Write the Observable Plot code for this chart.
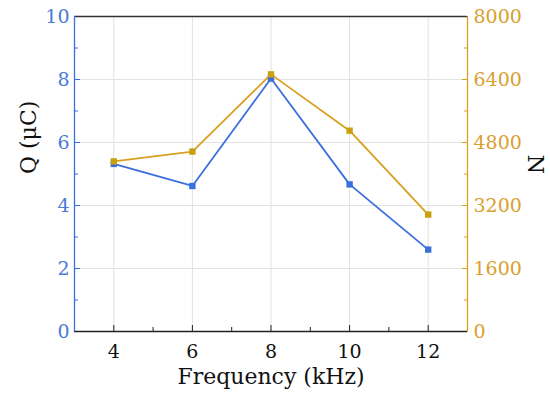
<!DOCTYPE html>
<html><head><meta charset="utf-8">
<script src="https://cdn.jsdelivr.net/npm/d3@7"></script>
<script src="https://cdn.jsdelivr.net/npm/@observablehq/plot@0.6"></script>
<style>body{margin:0;background:#fff}</style>
</head><body><div id="chart"></div>
<script>
const freq = [4, 6, 8, 10, 12];
const charge = [5.32, 4.62, 8.03, 4.67, 2.6];
const count = [4320, 4570, 6530, 5100, 2970];
const xTicks = [4, 6, 8, 10, 12];
const xMinor = [5, 7, 9, 11];
const yTicks = [0, 2, 4, 6, 8, 10];
const yMinor = [1, 3, 5, 7, 9];
const nTicks = [0, 1600, 3200, 4800, 6400, 8000];
const nMax = 8000;

const blue = "#3b6fdc";
const orange = "#d9a020";
const blueTxt = "#4a7bd6";
const orangeTxt = "#d9a030";

const qData = freq.map((f, i) => ({f, v: charge[i]}));
const nData = freq.map((f, i) => ({f, v: count[i] / nMax * 10}));

const chart = Plot.plot({
  width: 550, height: 394,
  marginLeft: 74, marginRight: 83, marginTop: 16, marginBottom: 63,
  style: {fontFamily: "DejaVu Serif", fontSize: "18px", background: "#fff"},
  x: {domain: [3, 13]},
  y: {domain: [0, 10]},
  marks: [
    Plot.gridX(xTicks, {stroke: "#e2e2e2", strokeOpacity: 1}),
    Plot.gridY([2, 4, 6, 8], {stroke: "#e2e2e2", strokeOpacity: 1}),
    // x axis labels and inward ticks
    Plot.axisX(xTicks, {tickSize: 0, tickPadding: 13, fill: "#111", fontSize: 19, label: null}),
    Plot.axisX(xTicks, {tickSize: 6, dy: -6, text: null, stroke: "#222", label: null}),
    Plot.axisX(xMinor, {tickSize: 4, dy: -4, text: null, stroke: "#222", label: null}),
    // left axis
    Plot.axisY(yTicks, {anchor: "left", tickSize: 0, tickPadding: 5, fill: blueTxt, fontSize: 19, label: null}),
    Plot.axisY(yTicks, {anchor: "left", tickSize: 6, dx: 6, text: null, stroke: blue, label: null}),
    Plot.axisY(yMinor, {anchor: "left", tickSize: 4, dx: 4, text: null, stroke: blue, label: null}),
    // right axis
    Plot.axisY(yTicks, {anchor: "right", tickSize: 0, tickPadding: 6, fill: orangeTxt, fontSize: 19, label: null,
      tickFormat: d => String(nTicks[yTicks.indexOf(d)])}),
    Plot.axisY(yTicks, {anchor: "right", tickSize: 6, dx: -6, text: null, stroke: orange, label: null}),
    Plot.axisY(yMinor, {anchor: "right", tickSize: 4, dx: -4, text: null, stroke: orange, label: null}),
    // frame lines
    Plot.ruleY([0], {stroke: "#222", strokeWidth: 1.3}),
    Plot.ruleY([10], {stroke: "#333", strokeWidth: 1.3}),
    Plot.ruleX([3], {stroke: blue, strokeWidth: 1.3}),
    Plot.ruleX([13], {stroke: orange, strokeWidth: 1.3}),
    // series
    Plot.line(nData, {x: "f", y: "v", stroke: orange, strokeWidth: 1.8}),
    Plot.line(qData, {x: "f", y: "v", stroke: blue, strokeWidth: 1.8}),
    Plot.dot(qData, {x: "f", y: "v", symbol: "square", r: 3.6, fill: blue, stroke: "none"}),
    Plot.dot(nData, {x: "f", y: "v", symbol: "square", r: 3.6, fill: "#c9a010", stroke: "none"}),
    // titles
    Plot.text(["Q (μC)"], {frameAnchor: "left", dx: -46, rotate: -90, fontSize: 22, fill: "#111"}),
    Plot.text(["N"], {frameAnchor: "right", dx: 68, rotate: 90, fontSize: 22, fill: "#111"}),
    Plot.text(["Frequency (kHz)"], {frameAnchor: "bottom", dy: 52, fontSize: 22, fill: "#111"})
  ]
});
document.getElementById("chart").appendChild(chart);
</script>
</body></html>
